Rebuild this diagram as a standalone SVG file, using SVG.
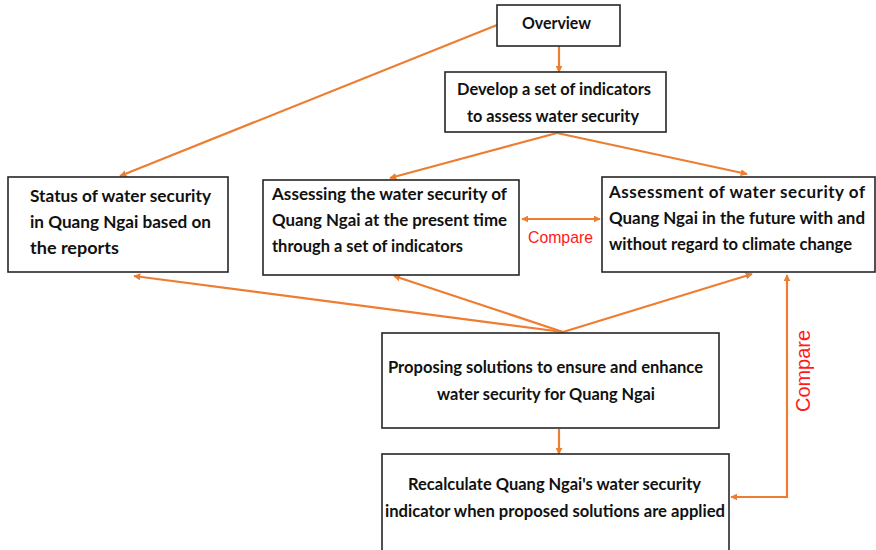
<svg xmlns="http://www.w3.org/2000/svg" width="876" height="550" viewBox="0 0 876 550">
<defs>
<style>
.box{fill:#fff;stroke:#262626;stroke-width:1.6}
.t{font-family:Lato,"Liberation Sans",sans-serif;font-weight:bold;font-size:17px;fill:#111}
.c{stroke:#ED7D31;stroke-width:2.2;fill:none}
.red{font-family:"Liberation Sans",Arial,sans-serif;fill:#FF1A1A}
</style>
<marker id="ah" viewBox="0 0 10 10" refX="9" refY="5" markerWidth="7" markerHeight="7" markerUnits="userSpaceOnUse" orient="auto-start-reverse">
<path d="M0,0 L10,5 L0,10 z" fill="#ED7D31"/>
</marker>
</defs>
<rect width="876" height="550" fill="#fff"/>
<g id="connectors">
<line class="c" x1="559" y1="46" x2="559" y2="72" marker-end="url(#ah)"/>
<line class="c" x1="497" y1="25" x2="120" y2="176" marker-end="url(#ah)"/>
<line class="c" x1="557" y1="133" x2="390" y2="178" marker-end="url(#ah)"/>
<line class="c" x1="557" y1="133" x2="747" y2="174" marker-end="url(#ah)"/>
<line class="c" x1="522" y1="219" x2="600" y2="219" marker-start="url(#ah)" marker-end="url(#ah)"/>
<line class="c" x1="563" y1="332" x2="134" y2="276" marker-end="url(#ah)"/>
<line class="c" x1="563" y1="332" x2="394" y2="276" marker-end="url(#ah)"/>
<line class="c" x1="563" y1="332" x2="752" y2="274" marker-end="url(#ah)"/>
<line class="c" x1="559" y1="429" x2="559" y2="454" marker-end="url(#ah)"/>
<polyline class="c" points="787,275 787,497 731,497" marker-start="url(#ah)" marker-end="url(#ah)"/>
<text class="red" x="528" y="243" font-size="17" textLength="65" lengthAdjust="spacingAndGlyphs">Compare</text>
<text class="red" x="0" y="0" font-size="20" transform="translate(810,412) rotate(-90)" textLength="82" lengthAdjust="spacingAndGlyphs">Compare</text>
</g>
<g id="overview">
<rect class="box" x="497" y="5" width="123" height="41"/>
<text class="t" x="522" y="29" textLength="69" lengthAdjust="spacingAndGlyphs">Overview</text>
</g>
<g id="develop">
<rect class="box" x="445" y="72" width="221" height="60"/>
<text class="t" x="457" y="95" textLength="194" lengthAdjust="spacingAndGlyphs">Develop a set of indicators</text>
<text class="t" x="467" y="122" textLength="172" lengthAdjust="spacingAndGlyphs">to assess water security</text>
</g>
<g id="status">
<rect class="box" x="8" y="177" width="220" height="95"/>
<text class="t" x="30" y="202" textLength="181" lengthAdjust="spacingAndGlyphs">Status of water security</text>
<text class="t" x="30" y="228" textLength="181" lengthAdjust="spacingAndGlyphs">in Quang Ngai based on</text>
<text class="t" x="30" y="254" textLength="89" lengthAdjust="spacingAndGlyphs">the reports</text>
</g>
<g id="present">
<rect class="box" x="263" y="180" width="256" height="95"/>
<text class="t" x="272" y="200" textLength="235" lengthAdjust="spacingAndGlyphs">Assessing the water security of</text>
<text class="t" x="272" y="226" textLength="235" lengthAdjust="spacingAndGlyphs">Quang Ngai at the present time</text>
<text class="t" x="272" y="252" textLength="191" lengthAdjust="spacingAndGlyphs">through a set of indicators</text>
</g>
<g id="future">
<rect class="box" x="602" y="177" width="273" height="95"/>
<text class="t" x="609" y="198" textLength="256" lengthAdjust="spacing">Assessment of water security of</text>
<text class="t" x="609" y="224" textLength="256" lengthAdjust="spacingAndGlyphs">Quang Ngai in the future with and</text>
<text class="t" x="609" y="250" textLength="243" lengthAdjust="spacingAndGlyphs">without regard to climate change</text>
</g>
<g id="proposing">
<rect class="box" x="382" y="333" width="337" height="95"/>
<text class="t" x="388" y="373" textLength="315" lengthAdjust="spacingAndGlyphs">Proposing solutions to ensure and enhance</text>
<text class="t" x="437" y="400" textLength="218" lengthAdjust="spacingAndGlyphs">water security for Quang Ngai</text>
</g>
<g id="recalc">
<rect class="box" x="382" y="454" width="347" height="100"/>
<text class="t" x="408" y="490" textLength="293" lengthAdjust="spacingAndGlyphs">Recalculate Quang Ngai's water security</text>
<text class="t" x="385" y="517" textLength="340" lengthAdjust="spacingAndGlyphs">indicator when proposed solutions are applied</text>
</g>
</svg>
